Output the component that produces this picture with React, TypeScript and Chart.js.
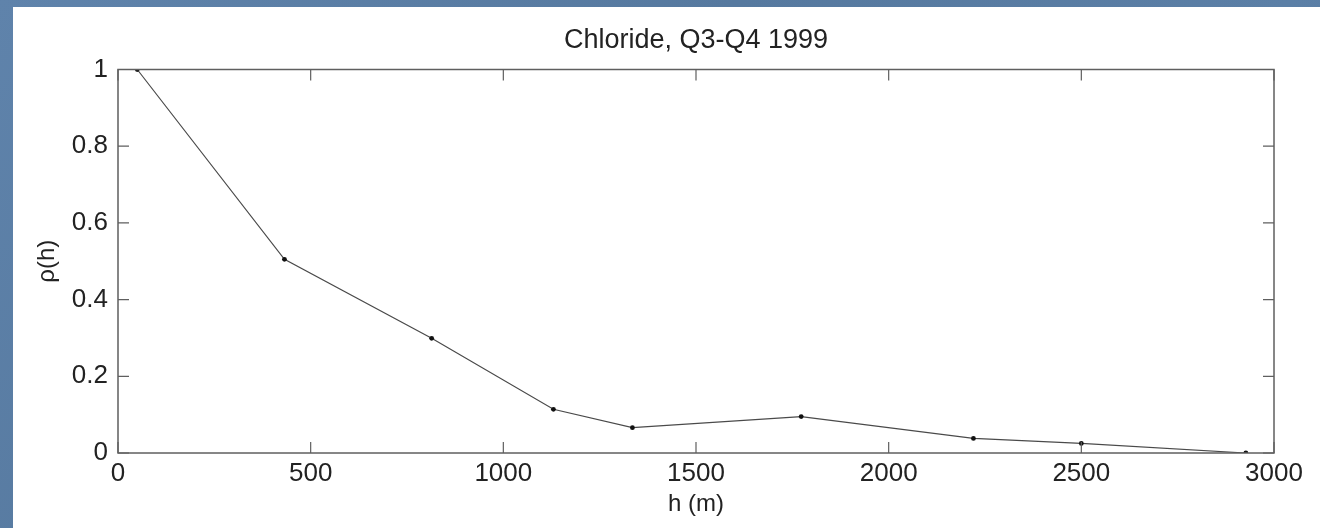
import React, { useEffect, useRef } from "react";
import { Chart, registerables } from "chart.js";

Chart.register(...registerables);

const titleText = "Chloride, Q3-Q4 1999";
const xAxisTitle = "h (m)";
const yAxisTitle = "ρ(h)";
const lagDistances = [50, 432, 814, 1130, 1335, 1773, 2220, 2500, 2927];
const correlation = [1, 0.505, 0.299, 0.114, 0.066, 0.095, 0.038, 0.025, 0];
const xTicks = [0, 500, 1000, 1500, 2000, 2500, 3000];
const yTicks = [0, 0.2, 0.4, 0.6, 0.8, 1];

const FONT = "'Liberation Sans', Arial, sans-serif";

const boxTicksPlugin = {
  id: "boxTicks",
  afterDatasetsDraw(chart: any) {
    const { ctx, chartArea, scales } = chart;
    const { left, right, top, bottom } = chartArea;
    const len = 11;
    ctx.save();
    ctx.strokeStyle = "#5f5f5f";
    ctx.lineWidth = 1.5;
    ctx.strokeRect(left, top, right - left, bottom - top);
    ctx.lineWidth = 1.2;
    ctx.beginPath();
    for (const v of xTicks) {
      const px = scales.x.getPixelForValue(v);
      ctx.moveTo(px, bottom);
      ctx.lineTo(px, bottom - len);
      ctx.moveTo(px, top);
      ctx.lineTo(px, top + len);
    }
    for (const v of yTicks) {
      const py = scales.y.getPixelForValue(v);
      ctx.moveTo(left, py);
      ctx.lineTo(left + len, py);
      ctx.moveTo(right, py);
      ctx.lineTo(right - len, py);
    }
    ctx.stroke();
    ctx.restore();
  },
};

export default function App() {
  const canvasRef = useRef<HTMLCanvasElement | null>(null);

  useEffect(() => {
    document.body.style.margin = "0";
    const canvas = canvasRef.current;
    if (!canvas) return;
    const chart = new Chart(canvas, {
      type: "scatter",
      data: {
        datasets: [
          {
            data: lagDistances.map((h, i) => ({ x: h, y: correlation[i] })),
            showLine: true,
            borderColor: "#4a4a4a",
            borderWidth: 1.2,
            pointRadius: 2.4,
            pointBackgroundColor: "#111",
            pointBorderWidth: 0,
            tension: 0,
          },
        ],
      },
      options: {
        animation: false,
        responsive: false,
        devicePixelRatio: 1,
        layout: { padding: { top: 0, left: 0, right: 46, bottom: 0 } },
        plugins: {
          legend: { display: false },
          tooltip: { enabled: false },
          title: {
            display: true,
            text: titleText,
            fullSize: false,
            color: "#222",
            font: { family: FONT, size: 27, weight: "normal", lineHeight: 1.2 },
            padding: { top: 17, bottom: 13.1 },
          },
        },
        scales: {
          x: {
            type: "linear",
            min: 0,
            max: 3000,
            afterBuildTicks: (scale: any) => {
              scale.ticks = xTicks.map((v) => ({ value: v }));
            },
            afterFit: (scale: any) => {
              scale.height = 75;
            },
            grid: { display: false, drawTicks: false },
            border: { display: false },
            ticks: {
              autoSkip: false,
              maxRotation: 0,
              color: "#222",
              padding: 5,
              font: { family: FONT, size: 26 },
              callback: (v: any) => String(v),
            },
            title: {
              display: true,
              text: xAxisTitle,
              color: "#222",
              font: { family: FONT, size: 24, lineHeight: 1.2 },
              padding: { top: 0, bottom: 9 },
            },
          },
          y: {
            type: "linear",
            min: 0,
            max: 1,
            afterBuildTicks: (scale: any) => {
              scale.ticks = yTicks.map((v) => ({ value: v }));
            },
            afterFit: (scale: any) => {
              scale.width = 105;
            },
            grid: { display: false, drawTicks: false },
            border: { display: false },
            ticks: {
              color: "#222",
              padding: 10,
              font: { family: FONT, size: 26 },
              callback: (v: any) => String(Number(Number(v).toFixed(1))),
            },
            title: {
              display: true,
              text: yAxisTitle,
              color: "#222",
              font: { family: FONT, size: 24, lineHeight: 1.2 },
              padding: { top: 20, bottom: 0 },
            },
          },
        },
      },
      plugins: [boxTicksPlugin],
    } as any);
    return () => chart.destroy();
  }, []);

  return (
    <div
      style={{
        position: "fixed",
        left: 0,
        top: 0,
        width: 1320,
        height: 528,
        background: "linear-gradient(135deg, #5f83ab 0%, #56799f 40%, #5b7fa6 70%, #51749b 100%)",
        overflow: "hidden",
      }}
    >
      <div
        style={{
          position: "absolute",
          left: 13,
          top: 7,
          width: 1307,
          height: 521,
          background: "#ffffff",
        }}
      >
        <canvas ref={canvasRef} width={1307} height={521} style={{ display: "block", width: 1307, height: 521 }} />
      </div>
    </div>
  );
}
